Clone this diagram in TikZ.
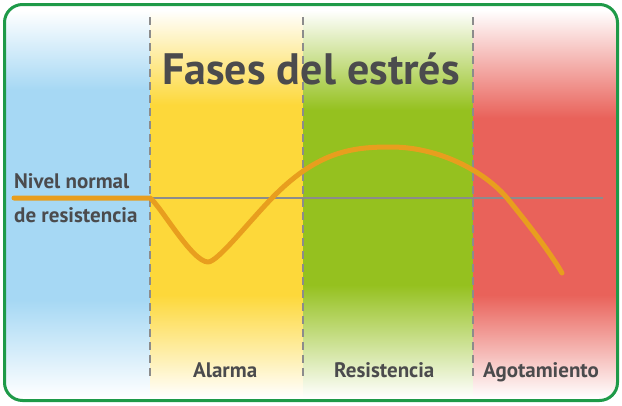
\documentclass[tikz,border=0pt]{standalone}
\usepackage{fontspec}
\setmainfont{PT Sans}
\usetikzlibrary{positioning}

\definecolor{bandblue}{HTML}{A6D8F4}
\definecolor{bandyellow}{HTML}{FDD83A}
\definecolor{bandgreen}{HTML}{95C11F}
\definecolor{bandred}{HTML}{E9625A}
\definecolor{curveorange}{HTML}{E89E1E}
\definecolor{framegreen}{HTML}{1E9A48}
\definecolor{linegray}{HTML}{8C8C8C}
\definecolor{txtgray}{HTML}{4B4B4D}

\begin{document}
\begin{tikzpicture}[x=1pt, y=-1pt,
  title/.style={font=\bfseries\fontsize{44}{48}\selectfont, text=txtgray, inner sep=0pt, anchor=base west},
  lbl/.style={font=\bfseries\fontsize{21}{24}\selectfont, text=txtgray, inner sep=0pt, anchor=base west},
  sep/.style={draw=linegray, line width=1.4pt, dash pattern=on 8pt off 5pt},
  curve/.style={draw=curveorange, line width=5pt, line cap=round, line join=round}]
\useasboundingbox (0,0) rectangle (622,405);

% colour bands, fading top and bottom
\begin{scope}
  \clip[rounded corners=18pt] (4.5,4.5) rectangle (617.5,400.5);
  \foreach \xa/\xb/\c/\ya/\yb in {6/150/bandblue/90/300, 150/303/bandyellow/105/295,
                                   303/473/bandgreen/110/285, 473/618/bandred/118/295} {
    \shade[top color=white, bottom color=\c] (\xa,10) rectangle (\xb,\ya);
    \fill[\c] (\xa,\ya-0.5) rectangle (\xb,\yb+0.5);
    \shade[top color=\c, bottom color=white] (\xa,\yb) rectangle (\xb,398);
  }
\end{scope}

% phase separators and normal level
\foreach \x in {150,303,473} \draw[sep] (\x,17) -- (\x,376);
\draw[linegray, line width=1.6pt] (150,198) -- (603,198);

% texts
\node[title] (ttl) at (162,84) {Fases del estrés};
\node[lbl] (lvl1) at (14,188) {Nivel normal};
\node[lbl] (lvl2) at (14,222) {de resistencia};
\node[lbl] (alarma) at (193,377) {Alarma};
\node[lbl] (resist) at (334,377) {Resistencia};
\node[lbl] (agot) at (483,377) {Agotamiento};

% stress response curve
\draw[curve] (14,198) -- (150,198) .. controls (160,205) and (192,262) .. (208,262)
  .. controls (218,262) and (250,220) .. (275,195) .. controls (320,150) and (355,147) .. (391,147)
  .. controls (440,147) and (485,172) .. (507,198) .. controls (525,220) and (550,252) .. (562,273);

\draw[framegreen, line width=3pt, rounded corners=18pt] (4.5,4.5) rectangle (617.5,400.5);
\end{tikzpicture}
\end{document}
